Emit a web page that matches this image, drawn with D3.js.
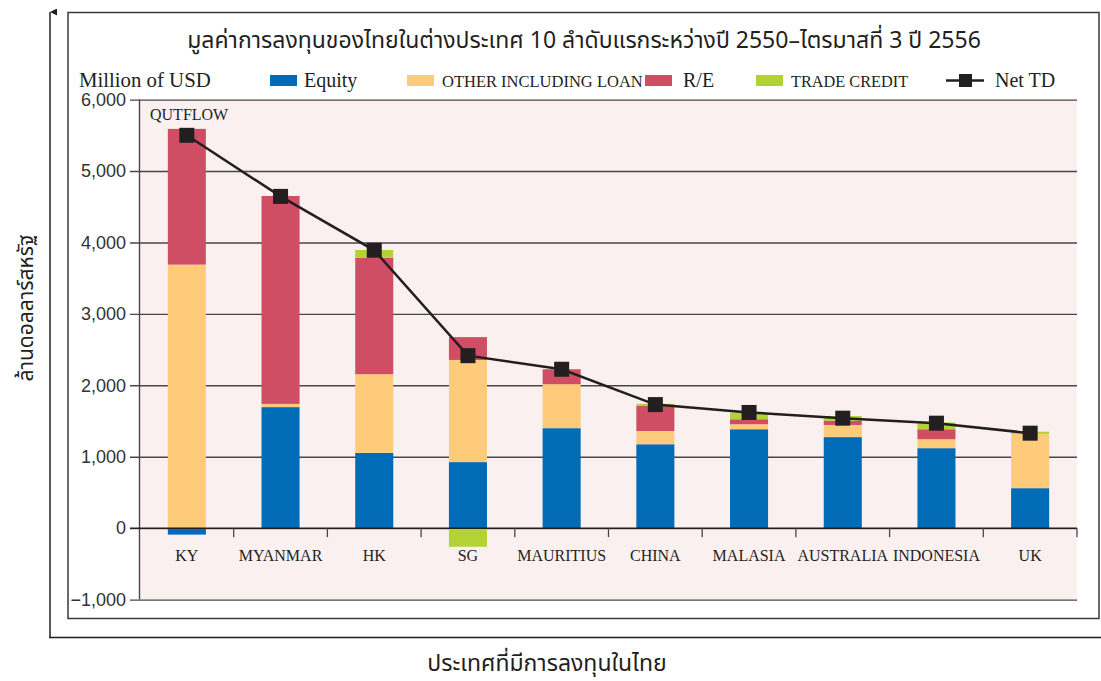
<!DOCTYPE html>
<html>
<head>
<meta charset="utf-8">
<script src="https://cdn.jsdelivr.net/npm/d3@7"></script>
<style>
  body { margin: 0; background: #ffffff; }
  svg { display: block; }
</style>
</head>
<body>
<div id="vis"></div>
<script>
// Data (million USD)
const CATEGORIES = ["KY", "MYANMAR", "HK", "SG", "MAURITIUS", "CHINA", "MALASIA", "AUSTRALIA", "INDONESIA", "UK"];
const EQUITY = [-90, 1695, 1055, 925, 1400, 1175, 1385, 1275, 1120, 560];
const OTHER_LOAN = [3690, 45, 1100, 1430, 615, 185, 70, 170, 125, 760];
const RE = [1900, 2910, 1630, 320, 210, 350, 70, 60, 140, 0];
const TRADE_CREDIT = [0, 0, 110, -260, 0, 30, 95, 65, 95, 30];
const NET_TD = [5500, 4645, 3890, 2415, 2225, 1730, 1620, 1540, 1470, 1330];
const Y_TICKS = [-1000, 0, 1000, 2000, 3000, 4000, 5000, 6000];

const SERIES = ["Equity", "OTHER INCLUDING LOAN", "R/E", "TRADE CREDIT"];
const SERIES_VALUES = [EQUITY, OTHER_LOAN, RE, TRADE_CREDIT];
const COLORS = ["#006bb6", "#fecb7a", "#d04e64", "#b2d235"];

const TITLE = "มูลค่าการลงทุนของไทยในต่างประเทศ 10 ลำดับแรกระหว่างปี 2550–ไตรมาสที่ 3 ปี 2556";
const Y_TITLE = "ล้านดอลลาร์สหรัฐ";
const X_TITLE = "ประเทศที่มีการลงทุนในไทย";

// Frame
const FRAME_WIDTH = 1101;
const FRAME_HEIGHT = 681;
const PLOT = {left: 140, right: 1077, top: 99.6, bottom: 599.6};

const THAI_FONT = "'Noto Sans Thai', 'Noto Sans Thai Looped', 'Loma', 'Garuda', 'Noto Sans', sans-serif";
const SERIF = "'Liberation Serif', 'Times New Roman', serif";
const SANS = "'Liberation Sans', Arial, sans-serif";

const FRAME = d3.select("#vis")
                .append("svg")
                  .attr("width", FRAME_WIDTH)
                  .attr("height", FRAME_HEIGHT);

// scales
const X_SCALE = d3.scaleBand()
                  .domain(CATEGORIES)
                  .range([PLOT.left, PLOT.right])
                  .paddingInner(0.594)
                  .paddingOuter(0.297);

const Y_SCALE = d3.scaleLinear()
                  .domain([-1000, 6000])
                  .range([PLOT.bottom, PLOT.top]);

// outer frame with arrow
FRAME.append("defs").append("marker")
      .attr("id", "arrow")
      .attr("viewBox", "0 0 10 10")
      .attr("refX", 5).attr("refY", 0)
      .attr("markerWidth", 7).attr("markerHeight", 14)
      .attr("markerUnits", "userSpaceOnUse")
      .attr("orient", "auto-start-reverse")
    .append("path")
      .attr("d", "M0,10 L5,0 L10,10 Z")
      .attr("fill", "#231f20");

FRAME.append("line")
      .attr("x1", 50).attr("x2", 50)
      .attr("y1", 637).attr("y2", 12)
      .attr("stroke", "#231f20")
      .attr("stroke-width", 1.5)
      .attr("marker-end", "url(#arrow)");

FRAME.append("line")
      .attr("x1", 49).attr("x2", FRAME_WIDTH)
      .attr("y1", 637.5).attr("y2", 637.5)
      .attr("stroke", "#231f20")
      .attr("stroke-width", 1.5);

FRAME.append("rect")
      .attr("x", 68).attr("y", 12.5)
      .attr("width", 1031).attr("height", 606)
      .attr("fill", "none")
      .attr("stroke", "#3a3a3a")
      .attr("stroke-width", 1.5);

// plot background
FRAME.append("rect")
      .attr("x", PLOT.left).attr("y", PLOT.top)
      .attr("width", PLOT.right - PLOT.left)
      .attr("height", PLOT.bottom - PLOT.top)
      .attr("fill", "#faf0f0");

// y axis with grid lines
const yAxis = FRAME.append("g")
      .attr("transform", "translate(" + PLOT.right + ",0)")
      .call(d3.axisLeft(Y_SCALE)
              .tickValues(Y_TICKS)
              .tickSize(PLOT.right - 130)
              .tickPadding(4)
              .tickFormat(d3.format(",")));

yAxis.select(".domain").remove();
yAxis.selectAll(".tick line")
      .attr("stroke", "#4a4646")
      .attr("stroke-width", 1.4);
yAxis.selectAll(".tick text")
      .attr("font-family", SANS)
      .attr("font-size", "18px")
      .attr("fill", "#333");

// plot left edge
FRAME.append("line")
      .attr("x1", PLOT.left - 0.5).attr("x2", PLOT.left - 0.5)
      .attr("y1", PLOT.top).attr("y2", PLOT.bottom)
      .attr("stroke", "#4a4646")
      .attr("stroke-width", 1.4);

// stacked bars
const rows = CATEGORIES.map((c, i) => {
  const row = {cat: c};
  SERIES.forEach((s, j) => { row[s] = SERIES_VALUES[j][i]; });
  return row;
});

const stacked = d3.stack()
                  .keys(SERIES)
                  .offset(d3.stackOffsetDiverging)(rows);

FRAME.selectAll(".layer")
      .data(stacked)
      .enter()
      .append("g")
        .attr("fill", (d, i) => COLORS[i])
      .selectAll("rect")
      .data(d => d)
      .enter()
      .append("rect")
        .attr("x", d => X_SCALE(d.data.cat))
        .attr("width", X_SCALE.bandwidth())
        .attr("y", d => Y_SCALE(Math.max(d[0], d[1])))
        .attr("height", d => Math.abs(Y_SCALE(d[0]) - Y_SCALE(d[1])));

// zero line and category ticks
FRAME.append("line")
      .attr("x1", 130).attr("x2", PLOT.right)
      .attr("y1", Y_SCALE(0)).attr("y2", Y_SCALE(0))
      .attr("stroke", "#231f20")
      .attr("stroke-width", 1.5);

const step = X_SCALE.step();
FRAME.selectAll(".cattick")
      .data(CATEGORIES)
      .enter()
      .append("line")
        .attr("x1", (d) => X_SCALE(d) + X_SCALE.bandwidth() + step * 0.297)
        .attr("x2", (d) => X_SCALE(d) + X_SCALE.bandwidth() + step * 0.297)
        .attr("y1", Y_SCALE(0))
        .attr("y2", Y_SCALE(0) + 9)
        .attr("stroke", "#4a4646")
        .attr("stroke-width", 1.3);

FRAME.selectAll(".catlabel")
      .data(CATEGORIES)
      .enter()
      .append("text")
        .attr("x", d => X_SCALE(d) + X_SCALE.bandwidth() / 2)
        .attr("y", 561)
        .attr("text-anchor", "middle")
        .attr("font-family", SERIF)
        .attr("font-size", "16px")
        .attr("fill", "#231f20")
        .text(d => d);

// Net TD line
const netLine = d3.line()
                  .x((d, i) => X_SCALE(CATEGORIES[i]) + X_SCALE.bandwidth() / 2)
                  .y(d => Y_SCALE(d));

FRAME.append("path")
      .datum(NET_TD)
      .attr("d", netLine)
      .attr("fill", "none")
      .attr("stroke", "#231f20")
      .attr("stroke-width", 2.5);

FRAME.selectAll(".netmark")
      .data(NET_TD)
      .enter()
      .append("rect")
        .attr("x", (d, i) => X_SCALE(CATEGORIES[i]) + X_SCALE.bandwidth() / 2 - 7.5)
        .attr("y", d => Y_SCALE(d) - 7.5)
        .attr("width", 15)
        .attr("height", 15)
        .attr("fill", "#231f20");

// texts
FRAME.append("text")
      .attr("x", 150).attr("y", 120)
      .attr("font-family", SERIF)
      .attr("font-size", "16px")
      .attr("fill", "#231f20")
      .text("QUTFLOW");

FRAME.append("text")
      .attr("x", 584).attr("y", 48)
      .attr("text-anchor", "middle")
      .attr("font-family", THAI_FONT)
      .attr("font-size", "23px")
      .attr("fill", "#231f20")
      .text(TITLE);

FRAME.append("text")
      .attr("x", 547).attr("y", 671)
      .attr("text-anchor", "middle")
      .attr("font-family", THAI_FONT)
      .attr("font-size", "23px")
      .attr("fill", "#231f20")
      .text(X_TITLE);

FRAME.append("text")
      .attr("transform", "translate(33,308) rotate(-90)")
      .attr("text-anchor", "middle")
      .attr("font-family", THAI_FONT)
      .attr("font-size", "21px")
      .attr("fill", "#231f20")
      .text(Y_TITLE);

// legend
FRAME.append("text")
      .attr("x", 79).attr("y", 87)
      .attr("font-family", SERIF)
      .attr("font-size", "20.8px")
      .attr("fill", "#231f20")
      .text("Million of USD");

const LEGEND_X = [270, 407, 645, 756];
const LEGEND_SIZE = ["20px", "16.5px", "20px", "16.3px"];
SERIES.forEach((s, i) => {
  FRAME.append("rect")
        .attr("x", LEGEND_X[i]).attr("y", 75)
        .attr("width", 27).attr("height", 11)
        .attr("fill", COLORS[i]);
  FRAME.append("text")
        .attr("x", LEGEND_X[i] + (i == 2 ? 38 : i == 0 ? 34 : 35))
        .attr("y", 87)
        .attr("font-family", SERIF)
        .attr("font-size", LEGEND_SIZE[i])
        .attr("fill", "#231f20")
        .text(s);
});

FRAME.append("line")
      .attr("x1", 946).attr("x2", 984)
      .attr("y1", 80.5).attr("y2", 80.5)
      .attr("stroke", "#231f20")
      .attr("stroke-width", 2.5);
FRAME.append("rect")
      .attr("x", 959).attr("y", 74)
      .attr("width", 13).attr("height", 13)
      .attr("fill", "#231f20");
FRAME.append("text")
      .attr("x", 995).attr("y", 87)
      .attr("font-family", SERIF)
      .attr("font-size", "20px")
      .attr("fill", "#231f20")
      .text("Net TD");
</script>
</body>
</html>
